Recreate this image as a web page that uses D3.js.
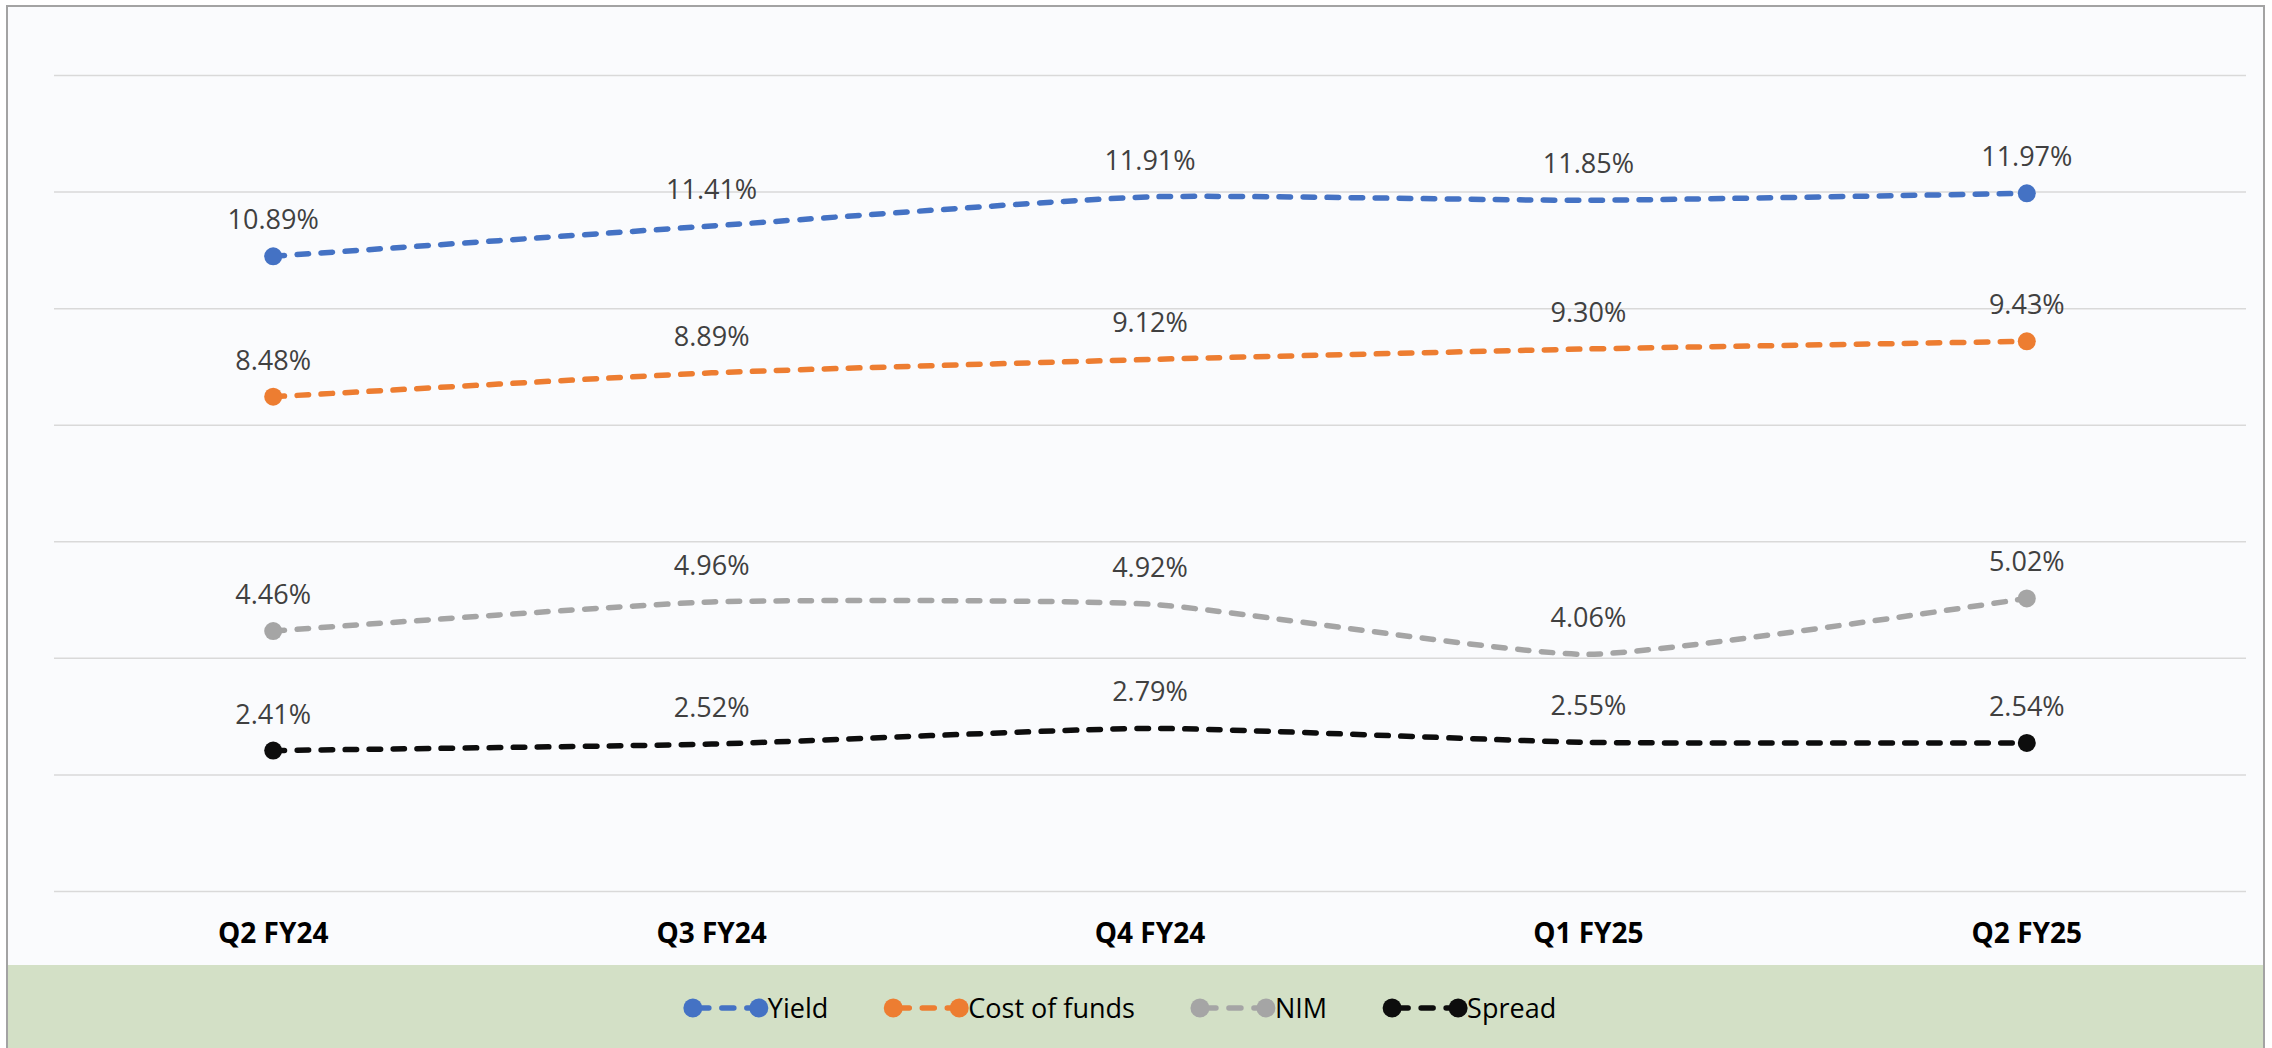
<!DOCTYPE html>
<html>
<head>
<meta charset="utf-8">
<script src="https://cdn.jsdelivr.net/npm/d3@7"></script>
<style>
  body { margin: 0; background: #ffffff; }
  svg { display: block; }
</style>
</head>
<body>
<div id="chart"></div>
<script>
// quarters on the x axis
const categories = ["Q2 FY24", "Q3 FY24", "Q4 FY24", "Q1 FY25", "Q2 FY25"];

// series values, in percent
const yieldVals = [10.89, 11.41, 11.91, 11.85, 11.97];
const costOfFunds = [8.48, 8.89, 9.12, 9.30, 9.43];
const nimVals = [4.46, 4.96, 4.92, 4.06, 5.02];
const spreadVals = [2.41, 2.52, 2.79, 2.55, 2.54];

const seriesNames = ["Yield", "Cost of funds", "NIM", "Spread"];
const seriesColors = ["#4472c4", "#ed7d31", "#a5a5a5", "#0d0d0d"];
const gridTicks = [0, 2, 4, 6, 8, 10, 12, 14];

const series = seriesNames.map((name, i) => ({
    name,
    color: seriesColors[i],
    values: [yieldVals, costOfFunds, nimVals, spreadVals][i]
}));

const width = 2272, height = 1048;
const plot = { left: 54, right: 2246, top: 75, bottom: 891 };
const legendTop = 965;
const font = "'Open Sans', 'Noto Sans', sans-serif";
const dash = "11.5,12.5";

const svg = d3.select("#chart").append("svg")
    .attr("width", width)
    .attr("height", height);

// chart area + outer frame
svg.append("rect")
    .attr("x", 7).attr("y", 6)
    .attr("width", 2257).attr("height", height)
    .attr("fill", "#fafbfd")
    .attr("stroke", "#a3a3a3")
    .attr("stroke-width", 2);

// green legend band
svg.append("rect")
    .attr("x", 8).attr("y", legendTop)
    .attr("width", 2255).attr("height", height - legendTop)
    .attr("fill", "#d3e0c6");

const x = d3.scaleBand()
    .domain(categories)
    .range([plot.left, plot.right]);
const cx = d => x(d) + x.bandwidth() / 2;

const y = d3.scaleLinear()
    .domain([0, 14])
    .range([plot.bottom, plot.top]);

// horizontal gridlines, no labels
const gy = svg.append("g")
    .attr("transform", `translate(${plot.left},0)`)
    .call(d3.axisLeft(y).tickValues(gridTicks).tickSize(-(plot.right - plot.left)).tickFormat(""));
gy.select(".domain").remove();
gy.selectAll(".tick line")
    .attr("stroke", "#d9d9d9")
    .attr("stroke-width", 1.5);

// category labels
const gx = svg.append("g")
    .attr("transform", `translate(0,${plot.bottom})`)
    .call(d3.axisBottom(x).tickSize(0).tickPadding(32));
gx.select(".domain").remove();
gx.selectAll("text")
    .attr("font-family", font)
    .attr("font-size", 28)
    .attr("font-weight", 700)
    .attr("fill", "#000");

// excel-ish smoothing, fairly gentle
const line = d3.line()
    .x((d, i) => cx(categories[i]))
    .y(d => y(d))
    .curve(d3.curveCardinal.tension(0.5));

series.forEach(s => {
    const g = svg.append("g");

    g.append("path")
        .datum(s.values)
        .attr("fill", "none")
        .attr("stroke", s.color)
        .attr("stroke-width", 5.5)
        .attr("stroke-linecap", "round")
        .attr("stroke-dasharray", dash)
        .attr("d", line);

    // markers only on the first and last point
    const ends = [0, s.values.length - 1];
    g.selectAll("circle")
        .data(ends)
        .join("circle")
        .attr("cx", i => cx(categories[i]))
        .attr("cy", i => y(s.values[i]))
        .attr("r", 9)
        .attr("fill", s.color);

    g.selectAll("text")
        .data(s.values)
        .join("text")
        .attr("x", (d, i) => cx(categories[i]))
        .attr("y", d => y(d) - 27)
        .attr("text-anchor", "middle")
        .attr("font-family", font)
        .attr("font-size", 27)
        .attr("fill", "#404040")
        .text(d => d.toFixed(2) + "%");
});

// legend
const legY = 1008, symW = 84, gap = 56;
const legend = svg.append("g");
const items = legend.selectAll("g")
    .data(series)
    .join("g");

items.append("line")
    .attr("x1", 9).attr("x2", symW - 9)
    .attr("y1", 0).attr("y2", 0)
    .attr("stroke", d => d.color)
    .attr("stroke-width", 5.5)
    .attr("stroke-linecap", "round")
    .attr("stroke-dasharray", "12,13")
    .attr("stroke-dashoffset", -4);

items.selectAll("circle")
    .data(d => [9, symW - 9].map(px => ({ px, color: d.color })))
    .join("circle")
    .attr("cx", d => d.px)
    .attr("cy", 0)
    .attr("r", 9.5)
    .attr("fill", d => d.color);

items.append("text")
    .attr("x", symW)
    .attr("y", 10)
    .attr("font-family", font)
    .attr("font-size", 27)
    .attr("fill", "#000")
    .text(d => d.name);

let widths = [];
items.each(function() {
    widths.push(symW + d3.select(this).select("text").node().getComputedTextLength());
});
const total = d3.sum(widths) + gap * (widths.length - 1);
let pos = 1120 - total / 2;
items.attr("transform", (d, i) => {
    const t = `translate(${pos},${legY})`;
    pos += widths[i] + gap;
    return t;
});
</script>
</body>
</html>
